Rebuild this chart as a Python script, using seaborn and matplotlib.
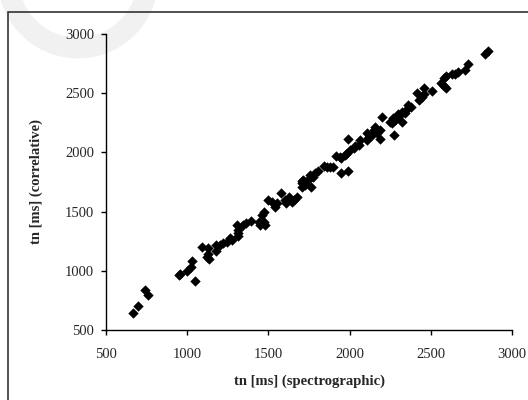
import numpy as np
import pandas as pd
import matplotlib
matplotlib.use("Agg")
import matplotlib.pyplot as plt
from matplotlib.patches import Rectangle, Arc
import seaborn as sns

# values
spectro = [665, 695, 740, 760,
           950, 955, 1000, 1025, 1030, 1045,
           1090, 1130, 1130, 1120, 1135, 1180, 1180, 1205, 1220, 1245, 1275, 1265,
           1305, 1315, 1310, 1315, 1345, 1365, 1390,
           1440, 1450, 1470, 1480, 1460, 1470, 1500, 1520, 1540, 1550,
           1580, 1600, 1610, 1625, 1645, 1655, 1675, 1705, 1715, 1725, 1705,
           1705, 1725, 1745, 1755, 1765, 1775, 1785, 1805,
           1840, 1860, 1880, 1900, 1915, 1940, 1950, 1950, 1990, 1970, 1980, 1990,
           2000, 2025, 2035, 2055, 2065,
           2105, 2105, 2115, 2125, 2135, 2150, 2155, 2170, 2185, 2185, 2200,
           2250, 2260, 2265, 2275, 2280, 2290, 2300, 2310, 2320, 2320, 2340, 2350,
           2360, 2380,
           2415, 2425, 2445, 2460, 2460, 2505,
           2565, 2580, 2595, 2580, 2595, 2630, 2650, 2670, 2710, 2730, 2835, 2850]
correl = [645, 705, 835, 795,
          965, 975, 1000, 1030, 1080, 915,
          1205, 1195, 1145, 1120, 1100, 1220, 1165, 1220, 1235, 1245, 1260, 1280,
          1385, 1345, 1320, 1290, 1385, 1400, 1420,
          1415, 1390, 1415, 1385, 1470, 1500, 1600, 1585, 1540, 1570,
          1655, 1600, 1570, 1625, 1585, 1600, 1625, 1755, 1765, 1725, 1710,
          1740, 1750, 1765, 1810, 1710, 1795, 1825, 1840,
          1885, 1880, 1875, 1880, 1970, 1965, 1950, 1830, 1840, 1980, 1990, 2110,
          2020, 2035, 2050, 2065, 2105,
          2105, 2160, 2120, 2140, 2150, 2190, 2215, 2160, 2110, 2190, 2300,
          2260, 2245, 2290, 2150, 2275, 2295, 2325, 2315, 2260, 2345, 2335, 2360,
          2400, 2380,
          2505, 2445, 2470, 2490, 2540, 2520,
          2590, 2560, 2545, 2625, 2645, 2660, 2660, 2675, 2700, 2745, 2835, 2860]
ticks = [500, 1000, 1500, 2000, 2500, 3000]

df = pd.DataFrame({"spectro": spectro, "correl": correl})

sns.set_style("ticks")
plt.rcParams["font.family"] = ["Liberation Serif", "DejaVu Serif"]

fig = plt.figure(figsize=(5.28, 4.0), dpi=100)
ax = fig.add_axes([106 / 528, 1 - 330 / 400, 406 / 528, 296 / 400])
ax.set_zorder(3)

# faint watermark arc and page frame
fig.patches.append(Arc((78 / 528, 1 + 22 / 400), 2 * 70 / 528, 2 * 70 / 400,
                       theta1=165, theta2=360, transform=fig.transFigure,
                       color="#f1f1f1", lw=15, zorder=-1))
fig.patches.append(Rectangle((8 / 528, -0.1), 1.2, 1.1 - 12 / 400,
                             transform=fig.transFigure, fill=False,
                             edgecolor="#222222", lw=1.1, zorder=1))

sns.scatterplot(data=df, x="spectro", y="correl", ax=ax, marker="D",
                color="black", edgecolor="black", linewidth=0, s=28)

ax.set_xlim(500, 3000)
ax.set_ylim(500, 3000)
ax.set_xticks(ticks)
ax.set_yticks(ticks)
ax.tick_params(direction="out", length=3.6, width=1, color="black",
               labelsize=10.5, bottom=True, left=True)
ax.tick_params(axis="x", pad=9)
ax.tick_params(axis="y", pad=5)
sns.despine(ax=ax)
for s in ["left", "bottom"]:
    ax.spines[s].set_color("black")
    ax.spines[s].set_linewidth(1)
ax.patch.set_alpha(0)

ax.set_xlabel("tn [ms] (spectrographic)", fontsize=10.5, fontweight="bold", labelpad=10)
ax.set_ylabel("tn [ms] (correlative)", fontsize=10.5, fontweight="bold", labelpad=16)

fig.savefig("out.png", dpi=100)
